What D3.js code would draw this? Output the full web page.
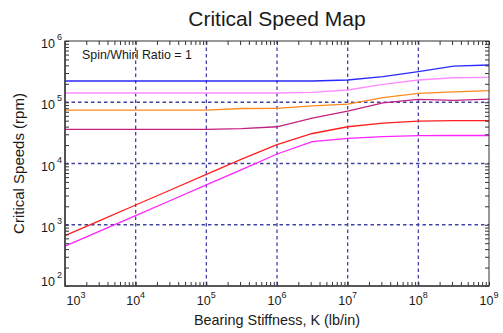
<!DOCTYPE html>
<html>
<head>
<meta charset="utf-8">
<script src="https://cdn.jsdelivr.net/npm/d3@7"></script>
<style>
  body { margin: 0; background: #fff; }
  text { font-family: "Liberation Sans", Arial, sans-serif; fill: #1a1a1a; }
</style>
</head>
<body>
<div id="chart"></div>
<script>
// bearing stiffness K (lb/in), half-decade samples
const stiffness = [1e3, 3.16e3, 1e4, 3.16e4, 1e5, 3.16e5, 1e6, 3.16e6, 1e7, 3.16e7, 1e8, 3.16e8, 1e9]

// critical speeds (rpm) for each mode
const mode1 = [447, 794, 1413, 2512, 4467, 7943, 14290, 22700, 25700, 27540, 28510, 28640, 28640]
const mode2 = [664, 1180, 2100, 3730, 6640, 11800, 20400, 30900, 39800, 45700, 49000, 50100, 50100]
const mode3 = [36100, 36100, 36100, 36100, 36100, 37200, 39800, 55000, 71900, 97700, 111700, 107200, 112200]
const mode4 = [74600, 74600, 74600, 74600, 74600, 79100, 79400, 87100, 93300, 118900, 140000, 147900, 154900]
const mode5 = [141600, 141600, 141600, 141600, 141600, 141600, 141600, 144500, 158500, 196300, 230700, 251200, 255300]
const mode6 = [222300, 222300, 222300, 222300, 222300, 222300, 222300, 222300, 230700, 261200, 315500, 389000, 405500]

const xMajor = [1e3, 1e4, 1e5, 1e6, 1e7, 1e8, 1e9]
const yMajor = [1e2, 1e3, 1e4, 1e5, 1e6]

const modes = [mode1, mode2, mode3, mode4, mode5, mode6]
const colors = ["#ff24ff", "#ff1f1f", "#c2207f", "#ff8a1c", "#ff8cff", "#2a2aff"]

width = 503
height = 333
margin = ({top: 41, right: 14, bottom: 47, left: 65})

svg = d3.select("#chart").append("svg")
  .attr("width", width)
  .attr("height", height)

x = d3.scaleLog()
  .domain([1e3, 1e9])
  .range([margin.left, width - margin.right])
y = d3.scaleLog()
  .domain([1e2, 1e6])
  .range([height - margin.bottom, margin.top])

// grid
svg.append("g")
  .selectAll("line")
  .data(xMajor.slice(1, -1))
  .enter().append("line")
  .attr("x1", d => x(d)).attr("x2", d => x(d))
  .attr("y1", margin.top).attr("y2", height - margin.bottom)
  .attr("stroke", "#4242a4").attr("stroke-width", 1.3)
  .attr("stroke-dasharray", "3.5,3")
svg.append("g")
  .selectAll("line")
  .data(yMajor.slice(1, -1))
  .enter().append("line")
  .attr("y1", d => y(d)).attr("y2", d => y(d))
  .attr("x1", margin.left).attr("x2", width - margin.right)
  .attr("stroke", "#4242a4").attr("stroke-width", 1.3)
  .attr("stroke-dasharray", "3.5,3")

// curves
line = d3.line()
  .x((d, i) => x(stiffness[i]))
  .y(d => y(d))

svg.append("g")
  .selectAll("path")
  .data(modes)
  .enter().append("path")
  .attr("fill", "none")
  .attr("stroke", (d, i) => colors[i])
  .attr("stroke-width", 1.3)
  .attr("d", line)

// inward ticks on all four sides
function ticks(axis, tx) {
  const g = svg.append("g")
    .attr("transform", tx)
    .call(axis.tickFormat("").tickSizeOuter(0))
  g.select(".domain").remove()
  g.selectAll(".tick line")
    .attr("stroke", "#333")
  return g
}
ticks(d3.axisBottom(x).tickValues(x.ticks()).tickSize(-4), `translate(0,${height - margin.bottom})`)
ticks(d3.axisTop(x).tickValues(x.ticks()).tickSize(-4), `translate(0,${margin.top})`)
ticks(d3.axisLeft(y).tickValues(y.ticks()).tickSize(-4), `translate(${margin.left},0)`)
ticks(d3.axisRight(y).tickValues(y.ticks()).tickSize(-4), `translate(${width - margin.right},0)`)

// frame
svg.append("rect")
  .attr("x", margin.left).attr("y", margin.top)
  .attr("width", width - margin.left - margin.right)
  .attr("height", height - margin.top - margin.bottom)
  .attr("fill", "none").attr("stroke", "#333").attr("stroke-width", 1)
svg.append("path")
  .attr("d", `M${margin.left},${margin.top}V${height - margin.bottom}H${width - margin.right}`)
  .attr("fill", "none").attr("stroke", "#444").attr("stroke-width", 1.6)

// tick labels, 10 with superscript exponent
const xl = svg.append("g").selectAll("text")
  .data(xMajor)
  .enter().append("text")
  .attr("x", (d, i) => x(d) + (i === 0 ? 11 : 0))
  .attr("y", height - margin.bottom + 19)
  .attr("text-anchor", "middle")
  .style("font-size", "12.5px")
xl.append("tspan").text("10")
xl.append("tspan").attr("dy", -7).style("font-size", "9px").text(d => Math.round(Math.log10(d)))

const yl = svg.append("g").selectAll("text")
  .data(yMajor)
  .enter().append("text")
  .attr("x", margin.left - 3)
  .attr("y", (d, i) => y(d) + 7 - (i === 0 ? 7 : 0))
  .attr("text-anchor", "end")
  .style("font-size", "12.5px")
yl.append("tspan").text("10")
yl.append("tspan").attr("dy", -8).attr("dx", 2).style("font-size", "9px").text(d => Math.round(Math.log10(d)))

// titles
svg.append("text")
  .attr("x", (margin.left + width - margin.right) / 2)
  .attr("y", 26)
  .attr("text-anchor", "middle")
  .style("font-size", "21px")
  .text("Critical Speed Map")

svg.append("text")
  .attr("x", (margin.left + width - margin.right) / 2)
  .attr("y", 325)
  .attr("text-anchor", "middle")
  .style("font-size", "14.4px")
  .text("Bearing Stiffness, K (lb/in)")

svg.append("text")
  .attr("transform", `translate(24,${(margin.top + height - margin.bottom) / 2}) rotate(-90)`)
  .attr("text-anchor", "middle")
  .style("font-size", "15px")
  .text("Critical Speeds (rpm)")

svg.append("text")
  .attr("x", 82)
  .attr("y", 59)
  .style("font-size", "12.4px")
  .text("Spin/Whirl Ratio = 1")
</script>
</body>
</html>
